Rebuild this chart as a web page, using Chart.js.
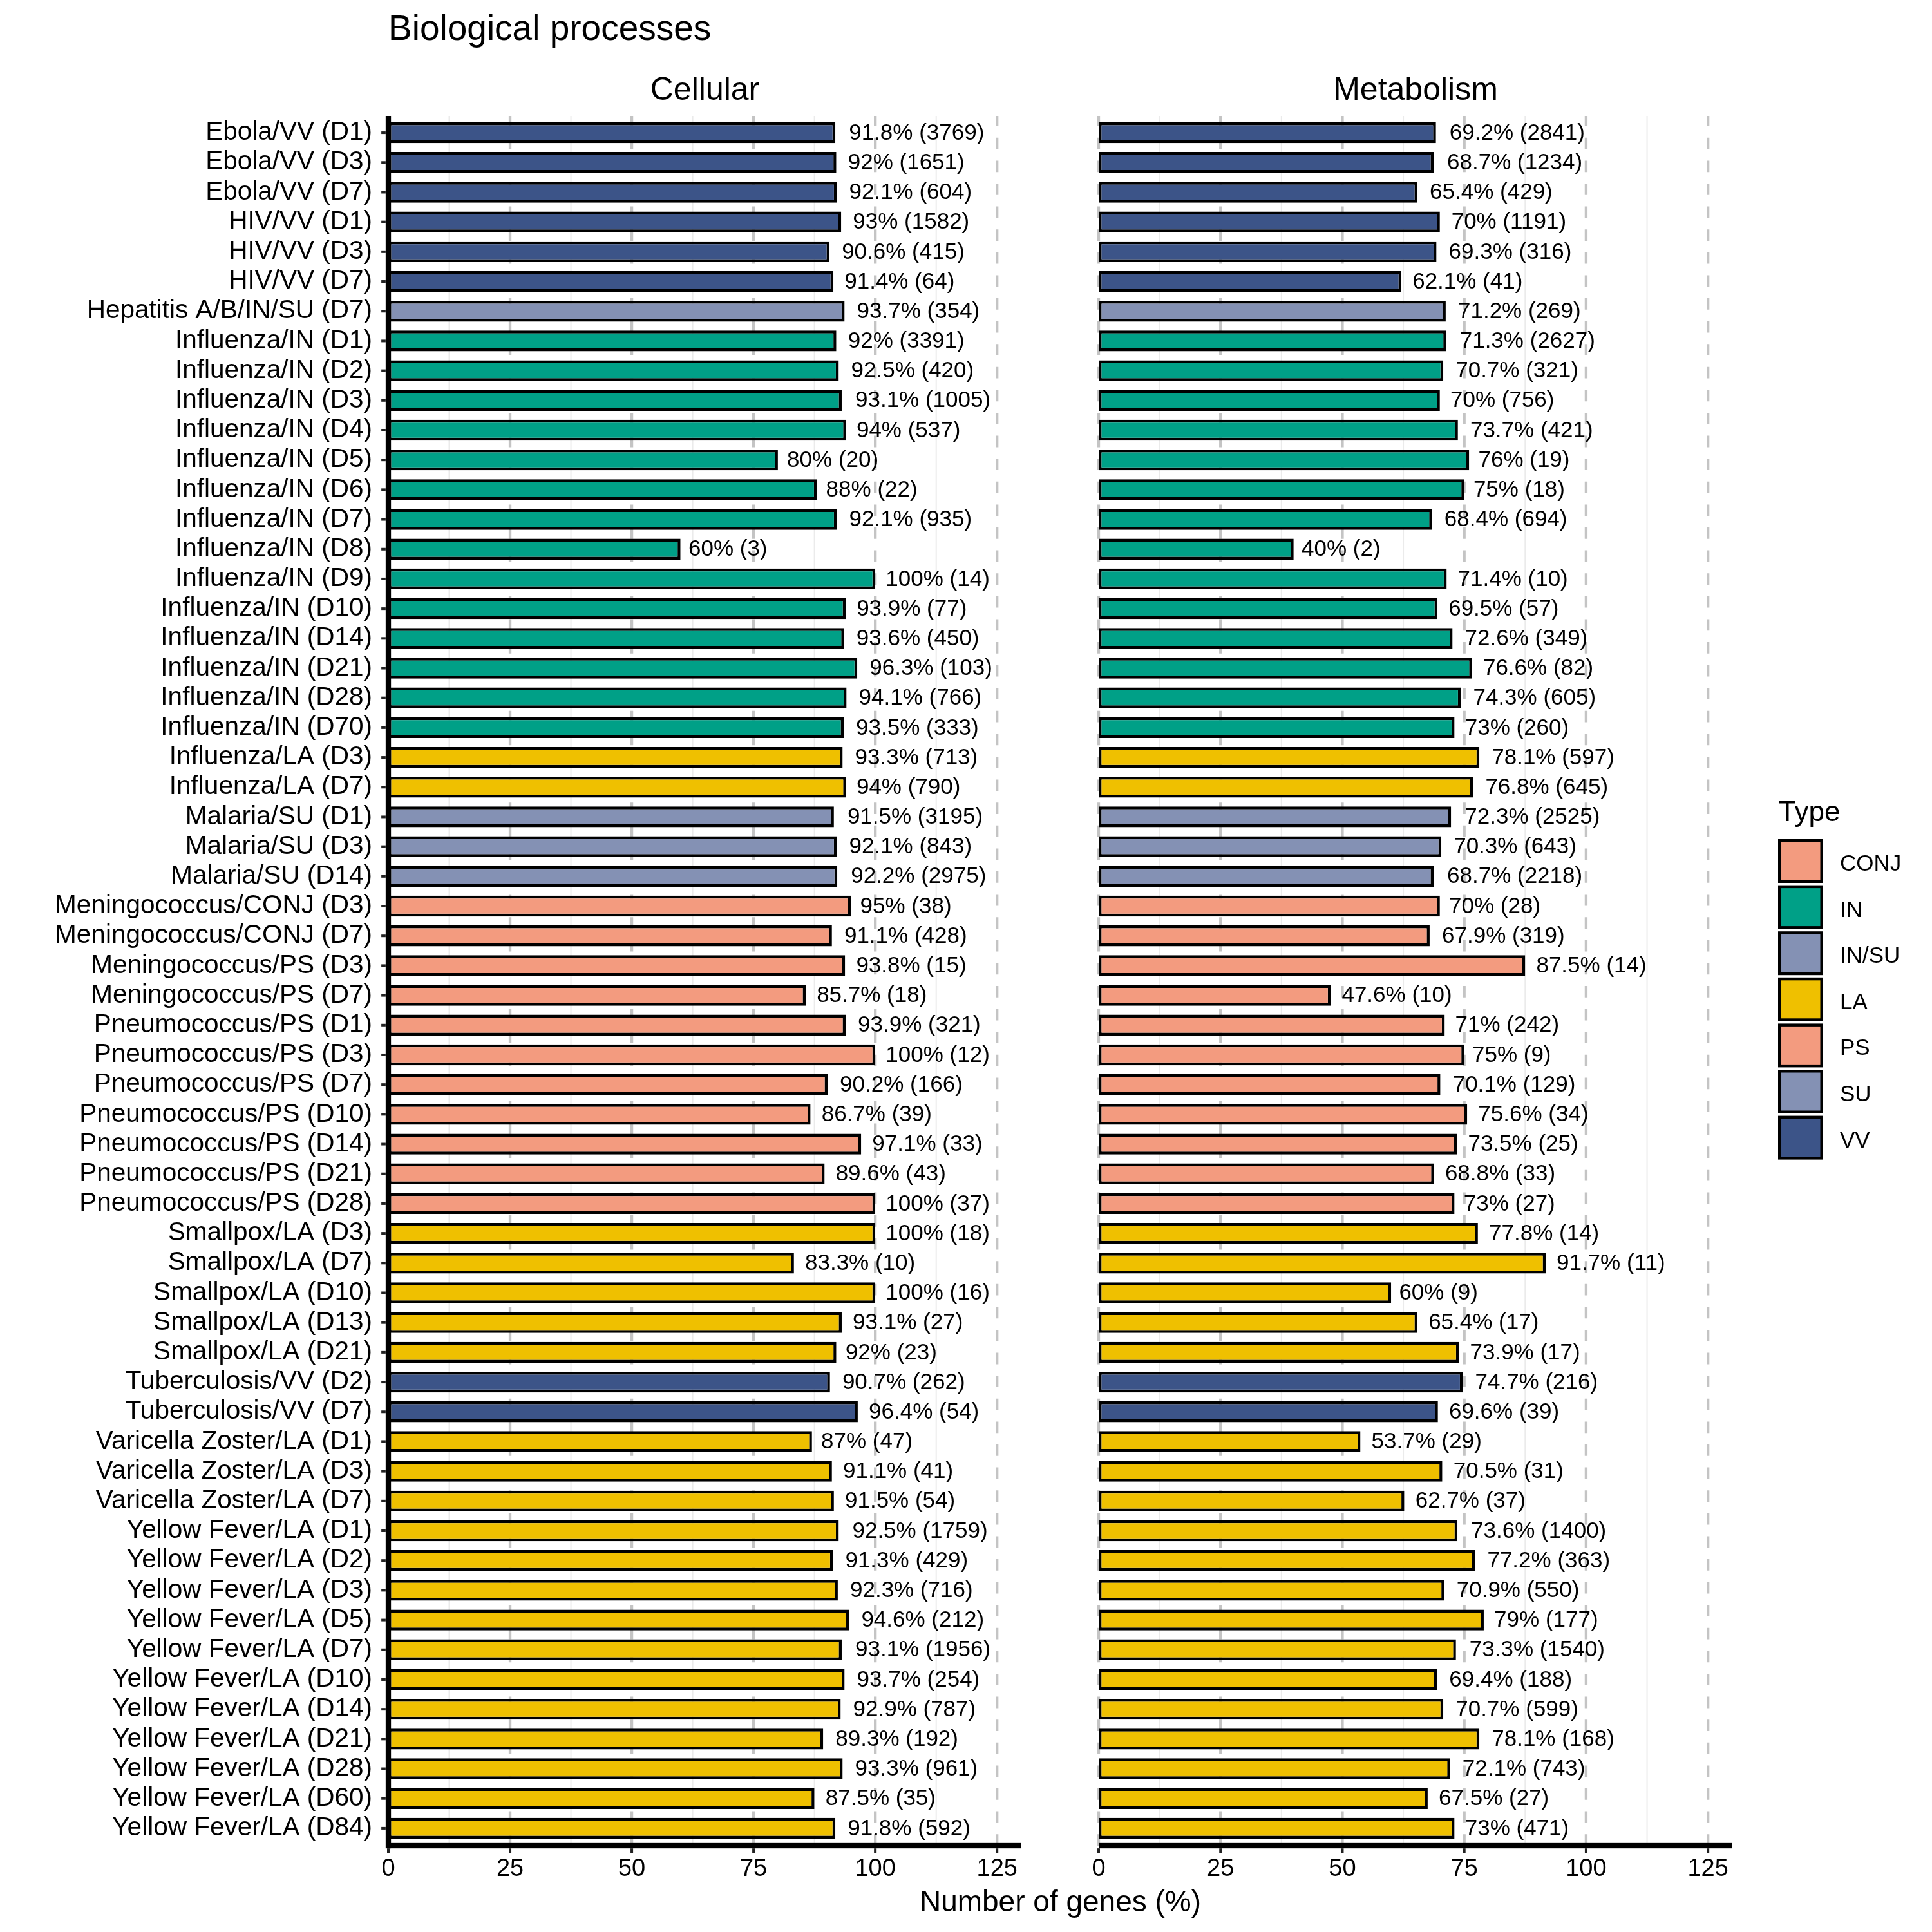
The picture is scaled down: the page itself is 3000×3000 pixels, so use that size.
<!DOCTYPE html>
<html>
<head>
<meta charset="utf-8">
<script src="https://cdn.jsdelivr.net/npm/chart.js@4.4.1/dist/chart.umd.min.js"></script>
<style>
  html, body { margin: 0; padding: 0; background: #ffffff; }
  #wrap { position: relative; width: 3000px; height: 3000px; background: #ffffff; }
  canvas { position: absolute; left: 0; top: 0; }
</style>
</head>
<body>
<div id="wrap">
  <canvas id="c1" width="3000" height="3000"></canvas>
  <canvas id="c2" width="3000" height="3000"></canvas>
</div>
<script>
// ---------------- DATA ----------------
const categories = [
  'Ebola/VV (D1)', 'Ebola/VV (D3)', 'Ebola/VV (D7)',
  'HIV/VV (D1)', 'HIV/VV (D3)', 'HIV/VV (D7)',
  'Hepatitis A/B/IN/SU (D7)',
  'Influenza/IN (D1)', 'Influenza/IN (D2)', 'Influenza/IN (D3)', 'Influenza/IN (D4)',
  'Influenza/IN (D5)', 'Influenza/IN (D6)', 'Influenza/IN (D7)', 'Influenza/IN (D8)',
  'Influenza/IN (D9)', 'Influenza/IN (D10)', 'Influenza/IN (D14)', 'Influenza/IN (D21)',
  'Influenza/IN (D28)', 'Influenza/IN (D70)',
  'Influenza/LA (D3)', 'Influenza/LA (D7)',
  'Malaria/SU (D1)', 'Malaria/SU (D3)', 'Malaria/SU (D14)',
  'Meningococcus/CONJ (D3)', 'Meningococcus/CONJ (D7)',
  'Meningococcus/PS (D3)', 'Meningococcus/PS (D7)',
  'Pneumococcus/PS (D1)', 'Pneumococcus/PS (D3)', 'Pneumococcus/PS (D7)', 'Pneumococcus/PS (D10)',
  'Pneumococcus/PS (D14)', 'Pneumococcus/PS (D21)', 'Pneumococcus/PS (D28)',
  'Smallpox/LA (D3)', 'Smallpox/LA (D7)', 'Smallpox/LA (D10)', 'Smallpox/LA (D13)', 'Smallpox/LA (D21)',
  'Tuberculosis/VV (D2)', 'Tuberculosis/VV (D7)',
  'Varicella Zoster/LA (D1)', 'Varicella Zoster/LA (D3)', 'Varicella Zoster/LA (D7)',
  'Yellow Fever/LA (D1)', 'Yellow Fever/LA (D2)', 'Yellow Fever/LA (D3)', 'Yellow Fever/LA (D5)',
  'Yellow Fever/LA (D7)', 'Yellow Fever/LA (D10)', 'Yellow Fever/LA (D14)', 'Yellow Fever/LA (D21)',
  'Yellow Fever/LA (D28)', 'Yellow Fever/LA (D60)', 'Yellow Fever/LA (D84)'
];

const vaccineTypes = [
  'VV', 'VV', 'VV',
  'VV', 'VV', 'VV',
  'IN/SU',
  'IN', 'IN', 'IN', 'IN', 'IN', 'IN', 'IN', 'IN', 'IN', 'IN', 'IN', 'IN', 'IN', 'IN',
  'LA', 'LA',
  'SU', 'SU', 'SU',
  'CONJ', 'CONJ',
  'PS', 'PS',
  'PS', 'PS', 'PS', 'PS', 'PS', 'PS', 'PS',
  'LA', 'LA', 'LA', 'LA', 'LA',
  'VV', 'VV',
  'LA', 'LA', 'LA',
  'LA', 'LA', 'LA', 'LA', 'LA', 'LA', 'LA', 'LA', 'LA', 'LA', 'LA'
];

const cellularPct = [
  91.8, 92, 92.1,
  93, 90.6, 91.4,
  93.7,
  92, 92.5, 93.1, 94, 80, 88, 92.1, 60, 100, 93.9, 93.6, 96.3, 94.1, 93.5,
  93.3, 94,
  91.5, 92.1, 92.2,
  95, 91.1,
  93.8, 85.7,
  93.9, 100, 90.2, 86.7, 97.1, 89.6, 100,
  100, 83.3, 100, 93.1, 92,
  90.7, 96.4,
  87, 91.1, 91.5,
  92.5, 91.3, 92.3, 94.6, 93.1, 93.7, 92.9, 89.3, 93.3, 87.5, 91.8
];

const cellularGenes = [
  3769, 1651, 604,
  1582, 415, 64,
  354,
  3391, 420, 1005, 537, 20, 22, 935, 3, 14, 77, 450, 103, 766, 333,
  713, 790,
  3195, 843, 2975,
  38, 428,
  15, 18,
  321, 12, 166, 39, 33, 43, 37,
  18, 10, 16, 27, 23,
  262, 54,
  47, 41, 54,
  1759, 429, 716, 212, 1956, 254, 787, 192, 961, 35, 592
];

const metabolismPct = [
  69.2, 68.7, 65.4,
  70, 69.3, 62.1,
  71.2,
  71.3, 70.7, 70, 73.7, 76, 75, 68.4, 40, 71.4, 69.5, 72.6, 76.6, 74.3, 73,
  78.1, 76.8,
  72.3, 70.3, 68.7,
  70, 67.9,
  87.5, 47.6,
  71, 75, 70.1, 75.6, 73.5, 68.8, 73,
  77.8, 91.7, 60, 65.4, 73.9,
  74.7, 69.6,
  53.7, 70.5, 62.7,
  73.6, 77.2, 70.9, 79, 73.3, 69.4, 70.7, 78.1, 72.1, 67.5, 73
];

const metabolismGenes = [
  2841, 1234, 429,
  1191, 316, 41,
  269,
  2627, 321, 756, 421, 19, 18, 694, 2, 10, 57, 349, 82, 605, 260,
  597, 645,
  2525, 643, 2218,
  28, 319,
  14, 10,
  242, 9, 129, 34, 25, 33, 27,
  14, 11, 9, 17, 17,
  216, 39,
  29, 31, 37,
  1400, 363, 550, 177, 1540, 188, 599, 168, 743, 27, 471
];

const xTicks = [0, 25, 50, 75, 100, 125];
const xMinorTicks = [12.5, 37.5, 62.5, 87.5, 112.5];
const xMin = 0;
const xMax = 130;

const legendTypes = ['CONJ', 'IN', 'IN/SU', 'LA', 'PS', 'SU', 'VV'];
const typeColors = {
  'CONJ': '#F39B7F',
  'IN': '#00A087',
  'IN/SU': '#8491B4',
  'LA': '#EFC000',
  'PS': '#F39B7F',
  'SU': '#8491B4',
  'VV': '#3C5488'
};

const panelTitles = ['Cellular', 'Metabolism'];
const chartTitle = 'Biological processes';
const xAxisTitle = 'Number of genes (%)';
const legendTitle = 'Type';

// ---------------- STYLE / LAYOUT ----------------
const FONT = '"Liberation Sans", Arial, Helvetica, sans-serif';
const PANEL_TOP = 180;
const PANEL_BOTTOM = 2866;
const AXIS_LW = 8.3;

function vline(ctx, x, y1, y2) {
  ctx.beginPath();
  ctx.moveTo(x, y1);
  ctx.lineTo(x, y2);
  ctx.stroke();
}

const panelPlugin = {
  id: 'panelDecor',
  beforeDatasetsDraw(chart, args, opts) {
    const ctx = chart.ctx;
    const xs = chart.scales.x;
    ctx.save();
    // minor grid
    ctx.strokeStyle = '#EBEBEB';
    ctx.lineWidth = 2;
    xMinorTicks.forEach(v => vline(ctx, xs.getPixelForValue(v), PANEL_TOP, PANEL_BOTTOM));
    // major dashed grid
    ctx.strokeStyle = '#C4C4C4';
    ctx.lineWidth = 4.3;
    ctx.setLineDash([17.8, 17.8]);
    xTicks.forEach(v => vline(ctx, xs.getPixelForValue(v), PANEL_BOTTOM, PANEL_TOP));
    ctx.restore();
  },
  afterDatasetsDraw(chart, args, opts) {
    const ctx = chart.ctx;
    const xs = chart.scales.x;
    const ys = chart.scales.y;
    ctx.save();
    // value labels
    ctx.font = '35px ' + FONT;
    ctx.fillStyle = '#000000';
    ctx.textAlign = 'left';
    ctx.textBaseline = 'middle';
    opts.pct.forEach((v, i) => {
      const txt = v + '% (' + opts.genes[i] + ')';
      const w = ctx.measureText(txt).width;
      const x = xs.getPixelForValue(v) + 0.1 * w;
      const y = ys.getPixelForValue(i) + 1;
      ctx.fillText(txt, x, y);
    });
    // x axis line
    ctx.fillStyle = '#000000';
    ctx.fillRect(xs.left, PANEL_BOTTOM - AXIS_LW / 2, xs.right - xs.left, AXIS_LW);
    // x ticks
    ctx.fillStyle = '#222222';
    xTicks.forEach(v => {
      const x = xs.getPixelForValue(v);
      ctx.fillRect(x - 2, PANEL_BOTTOM + AXIS_LW / 2, 4, 7.3);
    });
    if (opts.isLeft) {
      ctx.fillStyle = '#000000';
      const x0 = xs.getPixelForValue(xMin);
      ctx.fillRect(x0 - AXIS_LW / 2, PANEL_TOP, AXIS_LW, PANEL_BOTTOM + AXIS_LW / 2 - PANEL_TOP);
      ctx.fillStyle = '#222222';
      categories.forEach((c, i) => {
        const y = ys.getPixelForValue(i);
        ctx.fillRect(x0 - AXIS_LW / 2 - 6.7, y - 2, 6.7, 4);
      });
    }
    ctx.restore();
  },
  afterDraw(chart, args, opts) {
    const ctx = chart.ctx;
    const xs = chart.scales.x;
    ctx.save();
    ctx.fillStyle = '#000000';
    // strip title
    ctx.font = '50px ' + FONT;
    ctx.textAlign = 'center';
    ctx.textBaseline = 'alphabetic';
    ctx.fillText(opts.strip, (xs.left + xs.right) / 2, 155);
    if (opts.isLeft) {
      ctx.font = '55px ' + FONT;
      ctx.textAlign = 'left';
      ctx.fillText(chartTitle, xs.left, 62);
    } else {
      // x axis title, centred across both panels
      const left = opts.leftPanelX !== undefined ? opts.leftPanelX : 603;
      ctx.font = '46px ' + FONT;
      ctx.textAlign = 'center';
      ctx.fillText(xAxisTitle, (left + xs.right) / 2, 2968);
      // legend
      ctx.textAlign = 'left';
      ctx.font = '44px ' + FONT;
      ctx.fillText(legendTitle, 2762, 1275);
      ctx.font = '35px ' + FONT;
      legendTypes.forEach((t, k) => {
        const top = 1303 + k * 71.6;
        ctx.fillStyle = '#000000';
        ctx.fillRect(2761, top, 70, 68);
        ctx.fillStyle = typeColors[t];
        ctx.fillRect(2765.5, top + 4.5, 61, 59);
        ctx.fillStyle = '#000000';
        ctx.fillText(t, 2857, top + 49);
      });
    }
    ctx.restore();
  }
};

function makeChart(canvasId, pct, genes, strip, isLeft, padLeft, padRight, extra) {
  return new Chart(document.getElementById(canvasId), {
    type: 'bar',
    data: {
      labels: categories,
      datasets: [{
        data: pct,
        backgroundColor: vaccineTypes.map(t => typeColors[t]),
        borderColor: '#000000',
        borderWidth: 4.5,
        borderSkipped: false,
        barPercentage: 0.7,
        categoryPercentage: 1.0
      }]
    },
    options: {
      indexAxis: 'y',
      responsive: false,
      maintainAspectRatio: false,
      animation: false,
      devicePixelRatio: 1,
      events: [],
      layout: { padding: { top: 183, bottom: 0, left: padLeft, right: padRight } },
      scales: {
        x: {
          type: 'linear',
          min: xMin,
          max: xMax,
          afterBuildTicks: s => { s.ticks = xTicks.map(v => ({ value: v })); },
          afterFit: s => { s.height = 138; },
          grid: { display: false, drawTicks: false, tickLength: 0 },
          border: { display: false },
          ticks: {
            font: { family: FONT, size: 38, lineHeight: 1.2 },
            color: '#000000',
            padding: 18,
            maxRotation: 0,
            autoSkip: false
          }
        },
        y: {
          type: 'category',
          offset: true,
          display: isLeft,
          afterFit: s => { if (isLeft) s.width = 603; },
          grid: { display: false, drawTicks: false, tickLength: 0 },
          border: { display: false },
          ticks: {
            font: { family: FONT, size: 40.5, lineHeight: 1.0 },
            color: '#000000',
            padding: 25,
            autoSkip: false
          }
        }
      },
      plugins: {
        legend: { display: false },
        tooltip: { enabled: false },
        title: { display: false },
        panelDecor: Object.assign({ pct: pct, genes: genes, strip: strip, isLeft: isLeft }, extra || {})
      }
    },
    plugins: [panelPlugin]
  });
}

const leftChart = makeChart('c1', cellularPct, cellularGenes, panelTitles[0], true, 0, 3000 - 1586);
const rightChart = makeChart('c2', metabolismPct, metabolismGenes, panelTitles[1], false, 1706, 310,
  { leftPanelX: leftChart.scales.x.left });
</script>
</body>
</html>
